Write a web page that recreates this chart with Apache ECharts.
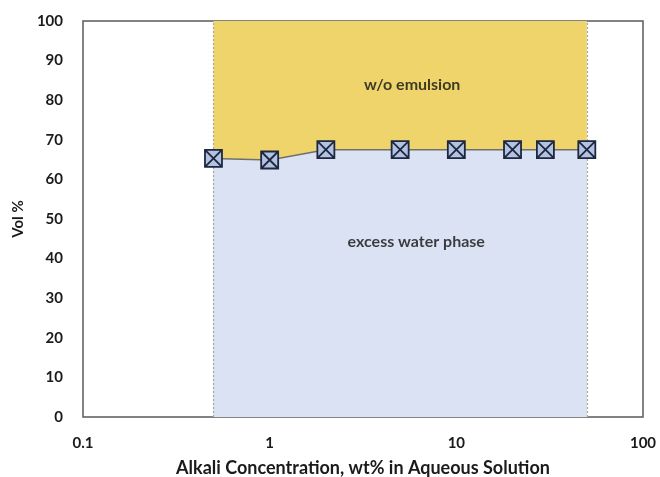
<!DOCTYPE html>
<html><head><meta charset="utf-8">
<script src="https://cdn.jsdelivr.net/npm/echarts@6/dist/echarts.min.js"></script>
<style>html,body{margin:0;padding:0;background:#fff}#c{width:660px;height:477px}</style>
</head><body><div id="c"></div>
<script>
const concentrations = [0.5, 1, 2, 5, 10, 20, 30, 50];
const volPercent = [65.3, 64.9, 67.5, 67.5, 67.5, 67.5, 67.5, 67.5];
const topLevel = [100, 100, 100, 100, 100, 100, 100, 100];
const regionLabels = [
  {name: 'w/o emulsion', x: 5.8, y: 84},
  {name: 'excess water phase', x: 6.1, y: 44.3}
];
const xTicks = [0.1, 1, 10, 100];

const font = 'Lato, "Open Sans", sans-serif';
const chart = echarts.init(document.getElementById('c'));
chart.setOption({
  animation: false,
  grid: {left: 83, right: 17, top: 21, bottom: 60, containLabel: false, outerBoundsMode: 'none',
    show: true, borderColor: '#595959', borderWidth: 1.5, backgroundColor: 'transparent'},
  xAxis: {
    type: 'log', logBase: 10, min: 0.1, max: 100,
    name: 'Alkali Concentration, wt% in Aqueous Solution',
    nameLocation: 'middle', nameGap: 42,
    nameTextStyle: {fontFamily: font, fontWeight: 'bold', fontSize: 18, color: '#1a1a1a'},
    axisLine: {show: false}, axisTick: {show: false}, splitLine: {show: false}, minorTick: {show: false},
    axisLabel: {fontFamily: font, fontWeight: 'bold', fontSize: 15, color: '#1a1a1a', margin: 19,
      formatter: v => { const t = xTicks.find(k => Math.abs(k - v) / k < 1e-6); return t === undefined ? '' : String(t); }}
  },
  yAxis: {
    type: 'value', min: 0, max: 100, interval: 10,
    name: 'Vol %', nameLocation: 'middle', nameGap: 54,
    nameTextStyle: {fontFamily: font, fontWeight: 'bold', fontSize: 15, color: '#1a1a1a'},
    axisLine: {show: false}, axisTick: {show: false}, splitLine: {show: false},
    axisLabel: {fontFamily: font, fontWeight: 'bold', fontSize: 15, color: '#1a1a1a', margin: 20}
  },
  series: [
    {
      type: 'line', data: concentrations.map((c, i) => [c, topLevel[i]]),
      symbol: 'none', lineStyle: {width: 0},
      areaStyle: {color: '#EFD46C', opacity: 1, origin: 'start'},
      z: 1,
      markLine: {
        silent: true, symbol: 'none',
        lineStyle: {color: '#a6a6a6', type: [2, 2], width: 1.2},
        label: {show: false},
        data: [
          [{coord: [concentrations[0], 0]}, {coord: [concentrations[0], 100]}],
          [{coord: [concentrations[concentrations.length - 1], 0]}, {coord: [concentrations[concentrations.length - 1], 100]}]
        ]
      }
    },
    {
      type: 'line', data: concentrations.map((c, i) => [c, volPercent[i]]),
      symbol: 'none', lineStyle: {width: 0},
      areaStyle: {color: '#DAE2F3', opacity: 1, origin: 'start'},
      z: 2
    },
    {
      type: 'line', data: concentrations.map((c, i) => [c, volPercent[i]]),
      symbol: 'path://M0,0 L10,0 L10,10 L0,10 Z M0,0 L10,10 M10,0 L0,10',
      symbolSize: 17,
      lineStyle: {color: '#6f6f6f', width: 1.5},
      itemStyle: {color: '#B4C2E2', borderColor: '#1d2740', borderWidth: 1.8},
      z: 5
    },
    {
      type: 'scatter', symbolSize: 0, z: 6,
      data: regionLabels.map(r => ({value: [r.x, r.y], name: r.name})),
      label: {show: true, position: 'inside', formatter: p => p.name, fontFamily: font, fontWeight: 'bold', fontSize: 16, color: '#111'}
    }
  ]
});
</script></body></html>
